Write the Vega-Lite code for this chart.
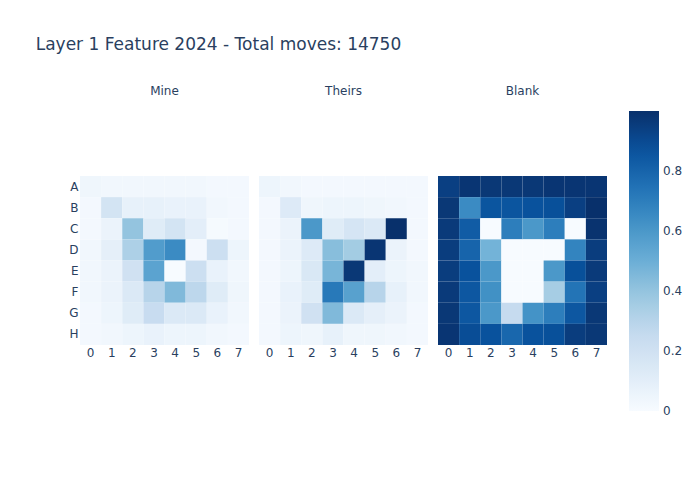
{
"$schema": "https://vega.github.io/schema/vega-lite/v6.json",
"background": "white",
"padding": {"left": 35, "top": 36, "right": 5, "bottom": 5},
"title": {"text": "Layer 1 Feature 2024 - Total moves: 14750", "anchor": "start", "frame": "bounds", "dx": -33, "fontSize": 17, "fontWeight": "normal", "color": "#2a3f5f", "font": "DejaVu Sans", "offset": 31},
"data": {"values": [
{"board":"Mine","row":"A","col":0,"value":0.04},{"board":"Mine","row":"A","col":1,"value":0.03},{"board":"Mine","row":"A","col":2,"value":0.03},{"board":"Mine","row":"A","col":3,"value":0.03},{"board":"Mine","row":"A","col":4,"value":0.03},{"board":"Mine","row":"A","col":5,"value":0.03},{"board":"Mine","row":"A","col":6,"value":0.02},{"board":"Mine","row":"A","col":7,"value":0.02},
{"board":"Mine","row":"B","col":0,"value":0.02},{"board":"Mine","row":"B","col":1,"value":0.18},{"board":"Mine","row":"B","col":2,"value":0.08},{"board":"Mine","row":"B","col":3,"value":0.08},{"board":"Mine","row":"B","col":4,"value":0.07},{"board":"Mine","row":"B","col":5,"value":0.07},{"board":"Mine","row":"B","col":6,"value":0.03},{"board":"Mine","row":"B","col":7,"value":0.02},
{"board":"Mine","row":"C","col":0,"value":0.02},{"board":"Mine","row":"C","col":1,"value":0.06},{"board":"Mine","row":"C","col":2,"value":0.40},{"board":"Mine","row":"C","col":3,"value":0.12},{"board":"Mine","row":"C","col":4,"value":0.18},{"board":"Mine","row":"C","col":5,"value":0.10},{"board":"Mine","row":"C","col":6,"value":0.01},{"board":"Mine","row":"C","col":7,"value":0.02},
{"board":"Mine","row":"D","col":0,"value":0.03},{"board":"Mine","row":"D","col":1,"value":0.09},{"board":"Mine","row":"D","col":2,"value":0.33},{"board":"Mine","row":"D","col":3,"value":0.58},{"board":"Mine","row":"D","col":4,"value":0.65},{"board":"Mine","row":"D","col":5,"value":0.02},{"board":"Mine","row":"D","col":6,"value":0.22},{"board":"Mine","row":"D","col":7,"value":0.05},
{"board":"Mine","row":"E","col":0,"value":0.03},{"board":"Mine","row":"E","col":1,"value":0.06},{"board":"Mine","row":"E","col":2,"value":0.20},{"board":"Mine","row":"E","col":3,"value":0.55},{"board":"Mine","row":"E","col":4,"value":0.00},{"board":"Mine","row":"E","col":5,"value":0.22},{"board":"Mine","row":"E","col":6,"value":0.07},{"board":"Mine","row":"E","col":7,"value":0.03},
{"board":"Mine","row":"F","col":0,"value":0.03},{"board":"Mine","row":"F","col":1,"value":0.06},{"board":"Mine","row":"F","col":2,"value":0.14},{"board":"Mine","row":"F","col":3,"value":0.30},{"board":"Mine","row":"F","col":4,"value":0.45},{"board":"Mine","row":"F","col":5,"value":0.28},{"board":"Mine","row":"F","col":6,"value":0.12},{"board":"Mine","row":"F","col":7,"value":0.04},
{"board":"Mine","row":"G","col":0,"value":0.02},{"board":"Mine","row":"G","col":1,"value":0.05},{"board":"Mine","row":"G","col":2,"value":0.12},{"board":"Mine","row":"G","col":3,"value":0.24},{"board":"Mine","row":"G","col":4,"value":0.14},{"board":"Mine","row":"G","col":5,"value":0.14},{"board":"Mine","row":"G","col":6,"value":0.07},{"board":"Mine","row":"G","col":7,"value":0.03},
{"board":"Mine","row":"H","col":0,"value":0.02},{"board":"Mine","row":"H","col":1,"value":0.03},{"board":"Mine","row":"H","col":2,"value":0.05},{"board":"Mine","row":"H","col":3,"value":0.07},{"board":"Mine","row":"H","col":4,"value":0.05},{"board":"Mine","row":"H","col":5,"value":0.05},{"board":"Mine","row":"H","col":6,"value":0.03},{"board":"Mine","row":"H","col":7,"value":0.02},
{"board":"Theirs","row":"A","col":0,"value":0.05},{"board":"Theirs","row":"A","col":1,"value":0.03},{"board":"Theirs","row":"A","col":2,"value":0.02},{"board":"Theirs","row":"A","col":3,"value":0.02},{"board":"Theirs","row":"A","col":4,"value":0.02},{"board":"Theirs","row":"A","col":5,"value":0.02},{"board":"Theirs","row":"A","col":6,"value":0.02},{"board":"Theirs","row":"A","col":7,"value":0.02},
{"board":"Theirs","row":"B","col":0,"value":0.02},{"board":"Theirs","row":"B","col":1,"value":0.13},{"board":"Theirs","row":"B","col":2,"value":0.04},{"board":"Theirs","row":"B","col":3,"value":0.05},{"board":"Theirs","row":"B","col":4,"value":0.05},{"board":"Theirs","row":"B","col":5,"value":0.04},{"board":"Theirs","row":"B","col":6,"value":0.03},{"board":"Theirs","row":"B","col":7,"value":0.02},
{"board":"Theirs","row":"C","col":0,"value":0.02},{"board":"Theirs","row":"C","col":1,"value":0.06},{"board":"Theirs","row":"C","col":2,"value":0.60},{"board":"Theirs","row":"C","col":3,"value":0.12},{"board":"Theirs","row":"C","col":4,"value":0.17},{"board":"Theirs","row":"C","col":5,"value":0.14},{"board":"Theirs","row":"C","col":6,"value":1.00},{"board":"Theirs","row":"C","col":7,"value":0.02},
{"board":"Theirs","row":"D","col":0,"value":0.02},{"board":"Theirs","row":"D","col":1,"value":0.06},{"board":"Theirs","row":"D","col":2,"value":0.13},{"board":"Theirs","row":"D","col":3,"value":0.43},{"board":"Theirs","row":"D","col":4,"value":0.36},{"board":"Theirs","row":"D","col":5,"value":0.98},{"board":"Theirs","row":"D","col":6,"value":0.06},{"board":"Theirs","row":"D","col":7,"value":0.02},
{"board":"Theirs","row":"E","col":0,"value":0.02},{"board":"Theirs","row":"E","col":1,"value":0.05},{"board":"Theirs","row":"E","col":2,"value":0.15},{"board":"Theirs","row":"E","col":3,"value":0.47},{"board":"Theirs","row":"E","col":4,"value":0.97},{"board":"Theirs","row":"E","col":5,"value":0.10},{"board":"Theirs","row":"E","col":6,"value":0.05},{"board":"Theirs","row":"E","col":7,"value":0.03},
{"board":"Theirs","row":"F","col":0,"value":0.02},{"board":"Theirs","row":"F","col":1,"value":0.07},{"board":"Theirs","row":"F","col":2,"value":0.12},{"board":"Theirs","row":"F","col":3,"value":0.72},{"board":"Theirs","row":"F","col":4,"value":0.56},{"board":"Theirs","row":"F","col":5,"value":0.30},{"board":"Theirs","row":"F","col":6,"value":0.08},{"board":"Theirs","row":"F","col":7,"value":0.03},
{"board":"Theirs","row":"G","col":0,"value":0.02},{"board":"Theirs","row":"G","col":1,"value":0.06},{"board":"Theirs","row":"G","col":2,"value":0.20},{"board":"Theirs","row":"G","col":3,"value":0.45},{"board":"Theirs","row":"G","col":4,"value":0.14},{"board":"Theirs","row":"G","col":5,"value":0.09},{"board":"Theirs","row":"G","col":6,"value":0.06},{"board":"Theirs","row":"G","col":7,"value":0.02},
{"board":"Theirs","row":"H","col":0,"value":0.02},{"board":"Theirs","row":"H","col":1,"value":0.05},{"board":"Theirs","row":"H","col":2,"value":0.04},{"board":"Theirs","row":"H","col":3,"value":0.08},{"board":"Theirs","row":"H","col":4,"value":0.04},{"board":"Theirs","row":"H","col":5,"value":0.04},{"board":"Theirs","row":"H","col":6,"value":0.03},{"board":"Theirs","row":"H","col":7,"value":0.02},
{"board":"Blank","row":"A","col":0,"value":0.94},{"board":"Blank","row":"A","col":1,"value":0.98},{"board":"Blank","row":"A","col":2,"value":0.97},{"board":"Blank","row":"A","col":3,"value":0.97},{"board":"Blank","row":"A","col":4,"value":0.97},{"board":"Blank","row":"A","col":5,"value":0.98},{"board":"Blank","row":"A","col":6,"value":0.98},{"board":"Blank","row":"A","col":7,"value":0.98},
{"board":"Blank","row":"B","col":0,"value":0.97},{"board":"Blank","row":"B","col":1,"value":0.65},{"board":"Blank","row":"B","col":2,"value":0.86},{"board":"Blank","row":"B","col":3,"value":0.86},{"board":"Blank","row":"B","col":4,"value":0.87},{"board":"Blank","row":"B","col":5,"value":0.88},{"board":"Blank","row":"B","col":6,"value":0.94},{"board":"Blank","row":"B","col":7,"value":1.00},
{"board":"Blank","row":"C","col":0,"value":0.96},{"board":"Blank","row":"C","col":1,"value":0.83},{"board":"Blank","row":"C","col":2,"value":0.00},{"board":"Blank","row":"C","col":3,"value":0.70},{"board":"Blank","row":"C","col":4,"value":0.60},{"board":"Blank","row":"C","col":5,"value":0.70},{"board":"Blank","row":"C","col":6,"value":0.00},{"board":"Blank","row":"C","col":7,"value":0.99},
{"board":"Blank","row":"D","col":0,"value":0.95},{"board":"Blank","row":"D","col":1,"value":0.80},{"board":"Blank","row":"D","col":2,"value":0.48},{"board":"Blank","row":"D","col":3,"value":0.00},{"board":"Blank","row":"D","col":4,"value":0.00},{"board":"Blank","row":"D","col":5,"value":0.00},{"board":"Blank","row":"D","col":6,"value":0.68},{"board":"Blank","row":"D","col":7,"value":0.95},
{"board":"Blank","row":"E","col":0,"value":0.95},{"board":"Blank","row":"E","col":1,"value":0.87},{"board":"Blank","row":"E","col":2,"value":0.60},{"board":"Blank","row":"E","col":3,"value":0.00},{"board":"Blank","row":"E","col":4,"value":0.00},{"board":"Blank","row":"E","col":5,"value":0.60},{"board":"Blank","row":"E","col":6,"value":0.88},{"board":"Blank","row":"E","col":7,"value":0.96},
{"board":"Blank","row":"F","col":0,"value":0.96},{"board":"Blank","row":"F","col":1,"value":0.85},{"board":"Blank","row":"F","col":2,"value":0.63},{"board":"Blank","row":"F","col":3,"value":0.00},{"board":"Blank","row":"F","col":4,"value":0.00},{"board":"Blank","row":"F","col":5,"value":0.35},{"board":"Blank","row":"F","col":6,"value":0.74},{"board":"Blank","row":"F","col":7,"value":0.94},
{"board":"Blank","row":"G","col":0,"value":0.97},{"board":"Blank","row":"G","col":1,"value":0.85},{"board":"Blank","row":"G","col":2,"value":0.60},{"board":"Blank","row":"G","col":3,"value":0.25},{"board":"Blank","row":"G","col":4,"value":0.62},{"board":"Blank","row":"G","col":5,"value":0.70},{"board":"Blank","row":"G","col":6,"value":0.85},{"board":"Blank","row":"G","col":7,"value":0.97},
{"board":"Blank","row":"H","col":0,"value":0.98},{"board":"Blank","row":"H","col":1,"value":0.89},{"board":"Blank","row":"H","col":2,"value":0.87},{"board":"Blank","row":"H","col":3,"value":0.79},{"board":"Blank","row":"H","col":4,"value":0.87},{"board":"Blank","row":"H","col":5,"value":0.88},{"board":"Blank","row":"H","col":6,"value":0.95},{"board":"Blank","row":"H","col":7,"value":0.97}
]},
"facet": {"column": {"field": "board", "type": "nominal", "sort": ["Mine", "Theirs", "Blank"], "title": null, "header": {"labelFontSize": 12, "labelColor": "#2a3f5f", "labelFont": "DejaVu Sans", "labelPadding": 78, "labelOrient": "top"}}},
"spacing": 10,
"spec": {
"width": 169,
"height": 169,
"mark": {"type": "rect", "strokeWidth": 0},
"encoding": {
"x": {"field": "col", "type": "ordinal", "title": null, "axis": {"labelAngle": 0, "labelPadding": 2}, "scale": {"paddingInner": 0, "paddingOuter": 0}},
"y": {"field": "row", "type": "ordinal", "title": null, "axis": {"labelPadding": 2}, "scale": {"paddingInner": 0, "paddingOuter": 0}},
"color": {"field": "value", "type": "quantitative",
"scale": {"domain": [0, 0.125, 0.25, 0.375, 0.5, 0.625, 0.75, 0.875, 1], "range": ["#f7fbff", "#deebf7", "#c6dbef", "#9ecae1", "#6baed6", "#4292c6", "#2171b5", "#08519c", "#08306b"]},
"legend": {"title": null, "orient": "none", "legendX": 549, "legendY": -65, "gradientLength": 300, "gradientThickness": 30, "values": [0, 0.2, 0.4, 0.6, 0.8], "format": "~g", "labelFontSize": 12, "labelColor": "#2a3f5f", "labelFont": "DejaVu Sans", "labelBaseline": "middle", "labelOffset": 4, "gradientStrokeWidth": 0, "direction": "vertical", "encode": {"labels": {"update": {"baseline": {"value": "middle"}}}}}}
}
},
"config": {
"view": {"stroke": null},
"axis": {"grid": false, "ticks": false, "domain": false, "labelFontSize": 12, "labelColor": "#2a3f5f", "labelFont": "DejaVu Sans"}
}
}
